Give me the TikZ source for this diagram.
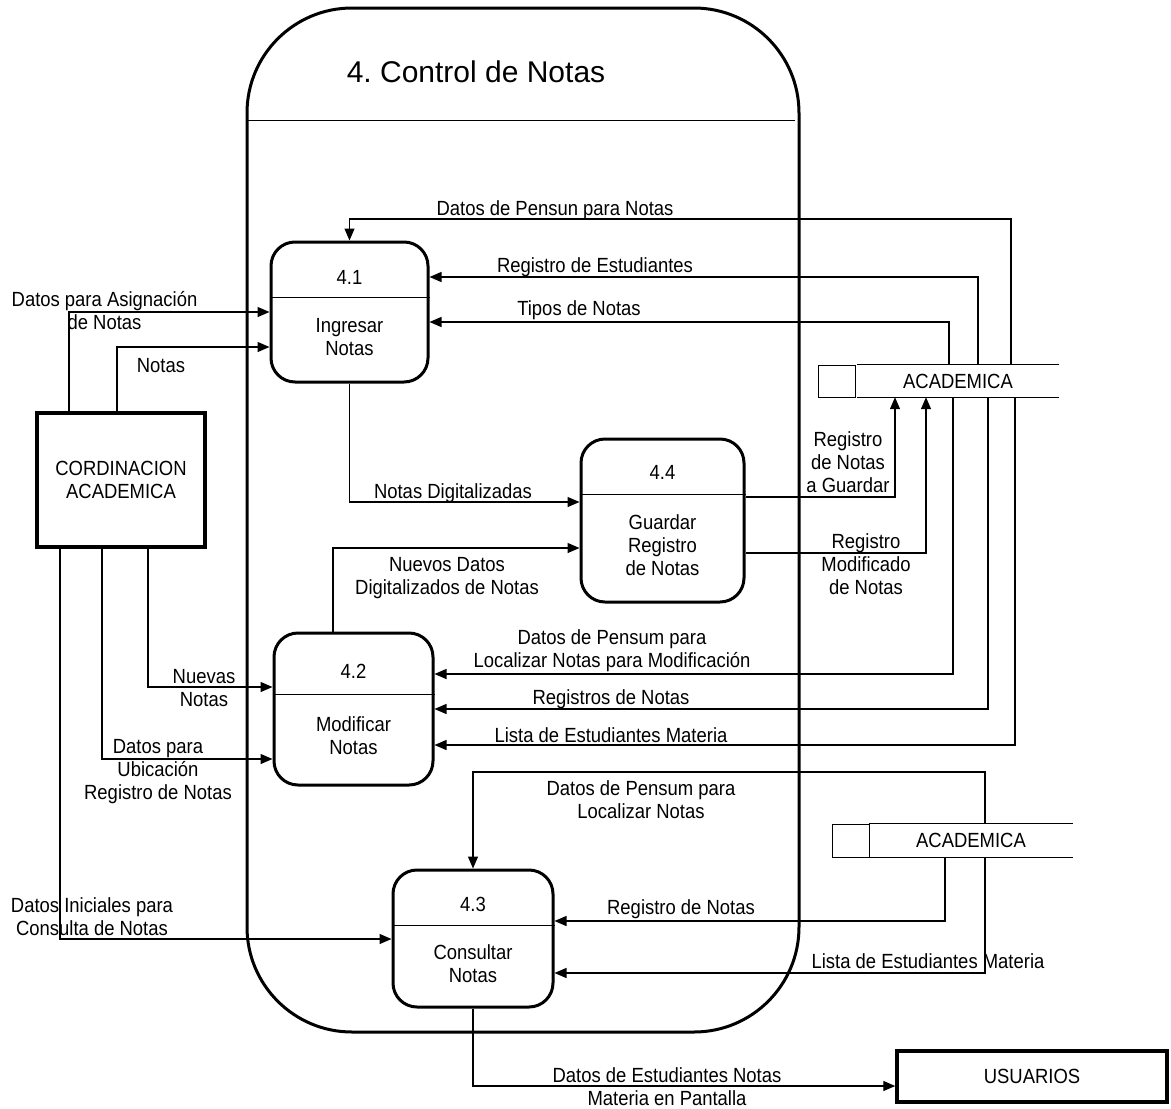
\documentclass[tikz,border=0pt]{standalone}
\usepackage{fontspec}
\setmainfont{Liberation Sans}[FakeStretch=0.9]
\newfontfamily\titlefont{Liberation Sans}
\usetikzlibrary{arrows.meta}
\newcommand{\dfdsize}{\fontsize{20.5pt}{23pt}\selectfont}
\frenchspacing
\begin{document}
\begin{tikzpicture}[>={Triangle[length=12pt,width=10pt]},x=1pt,y=-1pt,
  every node/.style={font=\dfdsize,inner sep=0pt},
  flow/.style={->,line width=1.3pt},
  proc/.style={draw,line width=3pt,rounded corners=24pt},
  ent/.style={draw,line width=3.5pt,align=center},
  lbl/.style={align=center}]
\useasboundingbox (0,0) rectangle (1171,1109);

\draw[line width=3pt,rounded corners=105pt] (247,8) rectangle (799,1032);
\draw[line width=1pt] (247,120) -- (795,120);
\node (title) at (476,72) {\titlefont\fontsize{30pt}{34pt}\selectfont 4. Control de Notas};

\node[proc,minimum width=157pt,minimum height=140pt] (p41) at (349.5,312) {};
\draw[line width=1pt] (p41.west |- 0,297) -- (p41.east |- 0,297);
\node (n41) at (349.5,277) {4.1};
\node[lbl] (t41) at (349.5,337) {Ingresar\\Notas};

\node[proc,minimum width=163pt,minimum height=163pt] (p44) at (662.5,520.5) {};
\draw[line width=1pt] (p44.west |- 0,494) -- (p44.east |- 0,494);
\node (n44) at (662.5,472) {4.4};
\node[lbl] (t44) at (662.5,545) {Guardar\\Registro\\de Notas};

\node[proc,minimum width=159pt,minimum height=152pt] (p42) at (353.5,709) {};
\draw[line width=1pt] (p42.west |- 0,694) -- (p42.east |- 0,694);
\node (n42) at (353.5,671) {4.2};
\node[lbl] (t42) at (353.5,736) {Modificar\\Notas};

\node[proc,minimum width=160pt,minimum height=137pt] (p43) at (473,938.5) {};
\draw[line width=1pt] (p43.west |- 0,925) -- (p43.east |- 0,925);
\node (n43) at (473,904) {4.3};
\node[lbl] (t43) at (473,964) {Consultar\\Notas};

\node[ent,minimum width=168pt,minimum height=134pt] (cord) at (121,480) {CORDINACION\\ACADEMICA};
\node[ent,minimum width=270pt,minimum height=51pt] (usu) at (1032,1076.5) {USUARIOS};

\node[minimum width=202pt,minimum height=32pt] (st1) at (958,381) {ACADEMICA};
\node[draw,line width=1pt,minimum width=37pt,minimum height=32pt] (st1k) at (836.5,381) {};
\draw[line width=1pt] (st1.north west) -- (st1.north east) (st1.south west) -- (st1.south east);

\node[minimum width=204pt,minimum height=33pt] (st2) at (971,840.5) {ACADEMICA};
\node[draw,line width=1pt,minimum width=37pt,minimum height=33pt] (st2k) at (850.5,840.5) {};
\draw[line width=1pt] (st2.north west) -- (st2.north east) (st2.south west) -- (st2.south east);

\draw[flow] (st1.north -| 1011,0) |- (p41.north |- 0,219) -- (p41.north);
\node (d1) at (555,210) {Datos de Pensun para Notas};
\draw[flow] (st1.north -| 978,0) |- (p41.east |- 0,277);
\node (d2) at (595,267) {Registro de Estudiantes};
\draw[flow] (st1.north -| 949,0) |- (p41.east |- 0,322);
\node (d3) at (579,310) {Tipos de Notas};
\draw[flow] (cord.north -| 69,0) |- (p41.west |- 0,312);
\node[lbl] (d4) at (104.5,310.5) {Datos para Asignación\\de Notas};
\draw[flow] (cord.north -| 117,0) |- (p41.west |- 0,347);
\node (d5) at (161,366) {Notas};

\draw[flow] (p41.south) |- (p44.west |- 0,502);
\node (d6) at (453,493) {Notas Digitalizadas};
\draw[flow] (p42.north -| 333,0) |- (p44.west |- 0,548);
\node[lbl] (d7) at (447,578) {Nuevos Datos\\Digitalizados de Notas};
\draw[flow] (p44.east |- 0,497) -| (st1.south -| 895,0);
\node[lbl] (d8) at (848,462) {Registro\\de Notas\\a Guardar};
\draw[flow] (p44.east |- 0,553) -| (st1.south -| 926,0);
\node[lbl] (d9) at (866,564) {Registro\\Modificado\\de Notas};

\draw[flow] (st1.south -| 953,0) |- (p42.east |- 0,674);
\node[lbl] (d10) at (612,651) {Datos de Pensum para\\Localizar Notas para Modificación};
\draw[flow] (st1.south -| 988,0) |- (p42.east |- 0,709);
\node (d11) at (611,699) {Registros de Notas};
\draw[flow] (st1.south -| 1015,0) |- (p42.east |- 0,745);
\node (d12) at (611,735) {Lista de Estudiantes Materia};
\draw[flow] (cord.south -| 148,0) |- (p42.west |- 0,687);
\node[lbl] (d13) at (204,688) {Nuevas\\Notas};
\draw[flow] (cord.south -| 102,0) |- (p42.west |- 0,759);
\node[lbl] (d14) at (158,772) {Datos para\\Ubicación\\Registro de Notas};

\draw[flow] (cord.south -| 60,0) |- (p43.west |- 0,939);
\node[lbl] (d15) at (92,917) {Datos Iniciales para\\Consulta de Notas};
\draw[flow] (st2.north -| 985,0) |- (p43.north |- 0,772) -- (p43.north);
\node[lbl] (d16) at (641,800) {Datos de Pensum para\\Localizar Notas};
\draw[flow] (st2.south -| 945,0) |- (p43.east |- 0,921);
\node (d17) at (681,909) {Registro de Notas};
\draw[flow] (st2.south -| 985,0) |- (p43.east |- 0,973);
\node (d18) at (928,961) {Lista de Estudiantes Materia};
\draw[flow] (p43.south) |- (usu.west |- 0,1086);
\node[lbl] (d19) at (667,1087) {Datos de Estudiantes Notas\\Materia en Pantalla};
\end{tikzpicture}
\end{document}
